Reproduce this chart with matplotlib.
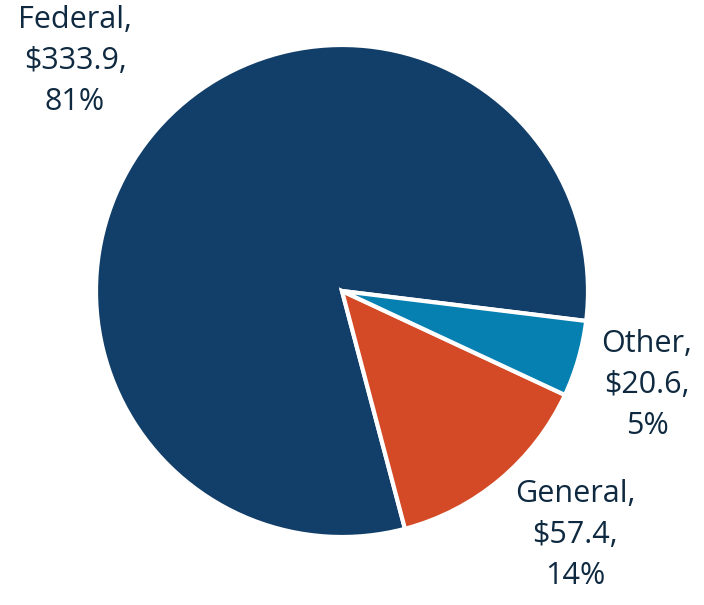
import matplotlib.pyplot as plt

categories = ["Federal", "General", "Other"]
values = [333.9, 57.4, 20.6]
colors = ["#123F69", "#D44A27", "#0680B0"]
text_color = "#0F2A40"

W, H = 704, 605
fig = plt.figure(figsize=(W / 100, H / 100), dpi=100)
ax = fig.add_axes([0, 0, 1, 1])

total = sum(values)
ax.pie(values, colors=colors, startangle=-7, counterclock=True,
       center=(342, H - 291), radius=246, frame=True,
       wedgeprops=dict(edgecolor="white", linewidth=3))
ax.set_xlim(0, W)
ax.set_ylim(0, H)
ax.set_aspect("equal")
ax.axis("off")

label_pos = {"Federal": (75, 61), "General": (575, 535), "Other": (647, 385)}
for cat, v in zip(categories, values):
    pct = round(v / total * 100)
    x, y = label_pos[cat]
    ax.text(x, H - y, f"{cat},\n${v:.1f},\n{pct}%", ha="center", va="center",
            fontsize=22, family="Open Sans", color=text_color, linespacing=1.48)

fig.savefig("out.png", dpi=100)
